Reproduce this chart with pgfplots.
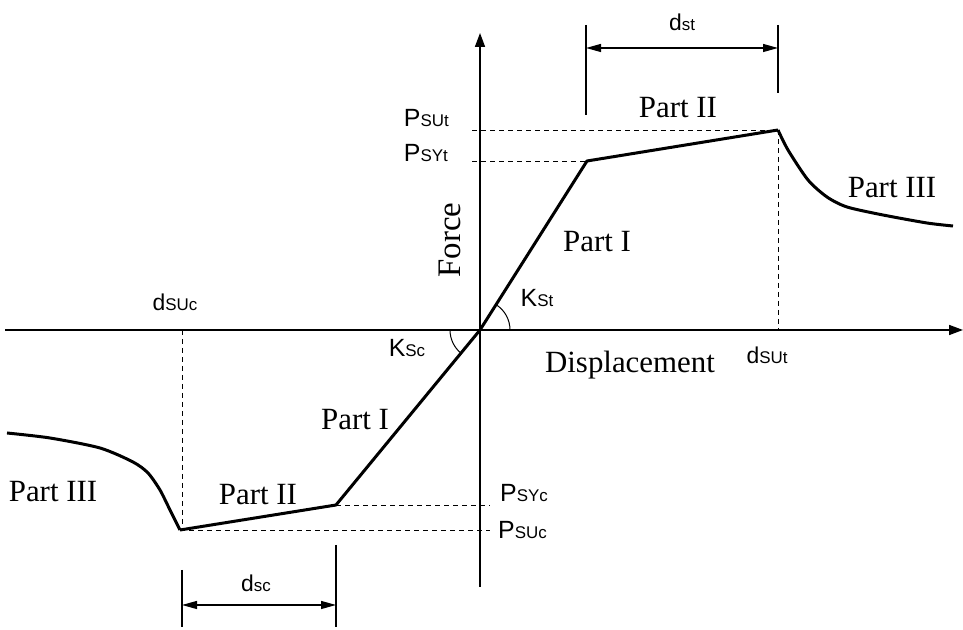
\documentclass[border=0pt]{standalone}
\usepackage{pgfplots}
\pgfplotsset{compat=1.18}
\usetikzlibrary{arrows.meta}
\usepackage{fontspec}
\setmainfont{Liberation Serif}
\newfontfamily\arial{Liberation Sans}

% label helpers: serif captions and sans symbols with subscripts
\newcommand{\partlabel}[1]{{\fontsize{31}{36}\selectfont #1}}
\newcommand{\sym}[3]{{\arial\fontsize{#1}{#1}\selectfont #2\fontsize{17}{17}\selectfont #3}}

\begin{document}
\begin{tikzpicture}
\begin{axis}[
  width=963bp, height=630bp, scale only axis,
  xmin=-480, xmax=483, ymin=-300, ymax=330,
  axis lines=none, clip=false,
]
% backbone: compression softening branch
\addplot[black, line width=3bp, smooth, tension=0.45] coordinates {
  (-473,-103) (-430,-108) (-380,-118) (-347,-132) (-332,-143)
  (-320,-160) (-310,-180) (-300,-200)
};
% backbone: linear parts (hardening, elastic, hardening)
\addplot[black, line width=3bp, line join=round] coordinates {
  (-300,-200) (-144,-175) (0,0) (107,169) (298,200)
};
% backbone: tension softening branch
\addplot[black, line width=3bp, smooth, tension=0.45] coordinates {
  (298,200) (308,180) (328,150) (347,133) (367,123)
  (403,115) (447,107) (473,104)
};

% reference dashed lines
\addplot[black, line width=0.9bp, dash pattern=on 5bp off 4bp] coordinates {(-8,200) (298,200)};
\addplot[black, line width=0.9bp, dash pattern=on 5bp off 4bp] coordinates {(-8,169) (107,169)};
\addplot[black, line width=0.9bp, dash pattern=on 5bp off 4bp] coordinates {(298,200) (298,0)};
\addplot[black, line width=0.9bp, dash pattern=on 5bp off 4bp] coordinates {(-298,0) (-298,-200)};
\addplot[black, line width=0.9bp, dash pattern=on 5bp off 4bp] coordinates {(-144,-175) (10,-175)};
\addplot[black, line width=0.9bp, dash pattern=on 5bp off 4bp] coordinates {(-300,-200) (10,-200)};

% coordinate axes
\draw[line width=1.6bp, -{Triangle[length=14bp,width=10bp]}] (axis cs:-475,0) -- (axis cs:483,0);
\draw[line width=1.6bp, -{Triangle[length=14bp,width=10bp]}] (axis cs:0,-257) -- (axis cs:0,297);

% stiffness angle arcs
\draw[line width=1bp] (axis cs:30,0) arc[start angle=0, end angle=57.7, radius=30bp];
\draw[line width=1bp] (axis cs:-30,0) arc[start angle=180, end angle=230.5, radius=30bp];

% dimension d_st
\draw[line width=1.2bp] (axis cs:106,305) -- (axis cs:106,215);
\draw[line width=1.2bp] (axis cs:298,305) -- (axis cs:298,237);
\draw[line width=1.2bp, {Triangle[length=15bp,width=8bp]}-{Triangle[length=15bp,width=8bp]}]
  (axis cs:106,282) -- (axis cs:298,282);
% dimension d_sc
\draw[line width=1.2bp] (axis cs:-298,-240) -- (axis cs:-298,-297);
\draw[line width=1.2bp] (axis cs:-144,-215) -- (axis cs:-144,-297);
\draw[line width=1.2bp, {Triangle[length=15bp,width=8bp]}-{Triangle[length=15bp,width=8bp]}]
  (axis cs:-298,-275) -- (axis cs:-144,-275);

% captions
\node at (axis cs:198,222) {\partlabel{Part II}};
\node at (axis cs:412,142) {\partlabel{Part III}};
\node at (axis cs:117,88) {\partlabel{Part I}};
\node at (axis cs:-125,-90) {\partlabel{Part I}};
\node at (axis cs:-222,-165) {\partlabel{Part II}};
\node at (axis cs:-427,-162) {\partlabel{Part III}};
\node at (axis cs:150,-35) {\partlabel{Displacement}};
\node[rotate=90] at (axis cs:-30,90) {{\fontsize{33}{36}\selectfont Force}};

% symbols
\node at (axis cs:202,308) {\sym{23}{d}{st}};
\node at (axis cs:-224,-253) {\sym{23}{d}{sc}};
\node at (axis cs:-305,28) {\sym{23}{d}{SUc}};
\node at (axis cs:287,-25) {\sym{23}{d}{SUt}};
\node at (axis cs:57,32) {\sym{25}{K}{St}};
\node at (axis cs:-73,-18) {\sym{25}{K}{Sc}};
\node[anchor=east, inner sep=0pt] at (axis cs:-31,212) {\sym{25}{P}{SUt}};
\node[anchor=east, inner sep=0pt] at (axis cs:-32,177) {\sym{25}{P}{SYt}};
\node[anchor=west, inner sep=0pt] at (axis cs:20,-163) {\sym{25}{P}{SYc}};
\node[anchor=west, inner sep=0pt] at (axis cs:18,-200) {\sym{25}{P}{SUc}};
\end{axis}
\pgfresetboundingbox
\path[use as bounding box] (current axis.south west) rectangle (current axis.north east);
\end{tikzpicture}
\end{document}
